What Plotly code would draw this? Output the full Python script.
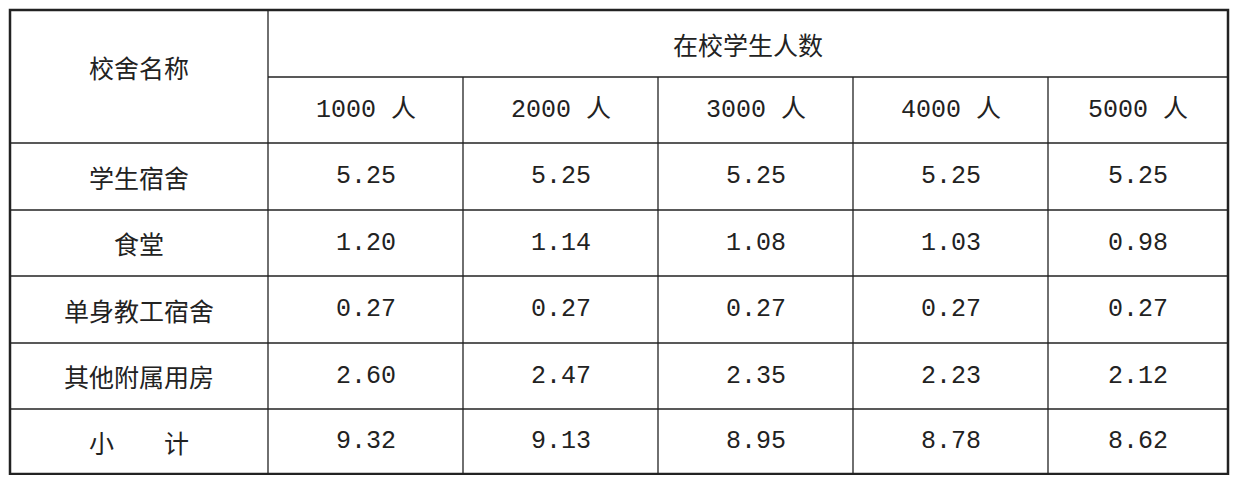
import plotly.graph_objects as go

row_labels = ["学生宿舍", "食堂", "单身教工宿舍", "其他附属用房", "小　　计"]
col_labels = ["1000 人", "2000 人", "3000 人", "4000 人", "5000 人"]
v1000 = ["5.25", "1.20", "0.27", "2.60", "9.32"]
v2000 = ["5.25", "1.14", "0.27", "2.47", "9.13"]
v3000 = ["5.25", "1.08", "0.27", "2.35", "8.95"]
v4000 = ["5.25", "1.03", "0.27", "2.23", "8.78"]
v5000 = ["5.25", "0.98", "0.27", "2.12", "8.62"]
columns = [v1000, v2000, v3000, v4000, v5000]
corner = "校舍名称"
group_title = "在校学生人数"

OFF = 8  # page body margin
W, H = 1238 - 2 * OFF, 483 - 2 * OFF
xs = [x - OFF for x in [10, 268, 463, 658, 853, 1048, 1228]]
ys = [y - OFF for y in [10, 77, 143, 210, 276, 343, 409, 474]]
FONT = dict(family="Noto Sans CJK SC", size=25, color="#222")
NUMFONT = dict(family="Liberation Mono, Noto Sans CJK SC", size=25, color="#222")

fig = go.Figure()
shapes, ann = [], []
line = dict(color="#222", width=1.3)
shapes.append(dict(type="rect", x0=xs[0], x1=xs[-1], y0=ys[0], y1=ys[-1], line=dict(color="#222", width=2.5)))
for i, x in enumerate(xs[1:-1], start=1):
    y0 = ys[0] if i == 1 else ys[1]
    shapes.append(dict(type="line", x0=x, x1=x, y0=y0, y1=ys[-1], line=line))
for j, y in enumerate(ys[1:-1], start=1):
    x0 = xs[1] if j == 1 else xs[0]
    shapes.append(dict(type="line", x0=x0, x1=xs[-1], y0=y, y1=y, line=line))

def text(x, y, t, font=FONT):
    ann.append(dict(x=x, y=y, text=t, showarrow=False, font=font, xanchor="center", yanchor="middle"))

text((xs[0]+xs[1])/2, (ys[0]+ys[2])/2 - 10, corner)
text((xs[1]+xs[-1])/2, (ys[0]+ys[1])/2, group_title)
for c, lab in enumerate(col_labels):
    text((xs[c+1]+xs[c+2])/2, (ys[1]+ys[2])/2, lab, NUMFONT)
for r, lab in enumerate(row_labels):
    yc = (ys[r+2]+ys[r+3])/2
    text((xs[0]+xs[1])/2, yc, lab)
    for c, col in enumerate(columns):
        text((xs[c+1]+xs[c+2])/2, yc, col[r], NUMFONT)

fig.add_trace(go.Scatter(x=[0, W], y=[0, H], mode="markers", marker=dict(opacity=0), hoverinfo="skip"))
fig.update_layout(width=W, height=H, margin=dict(l=0, r=0, t=0, b=0),
                  paper_bgcolor="white", plot_bgcolor="white", showlegend=False,
                  shapes=shapes, annotations=ann,
                  xaxis=dict(range=[0, W], visible=False, fixedrange=True),
                  yaxis=dict(range=[H, 0], visible=False, fixedrange=True))
fig.write_html("out.html", config=dict(displayModeBar=False))
